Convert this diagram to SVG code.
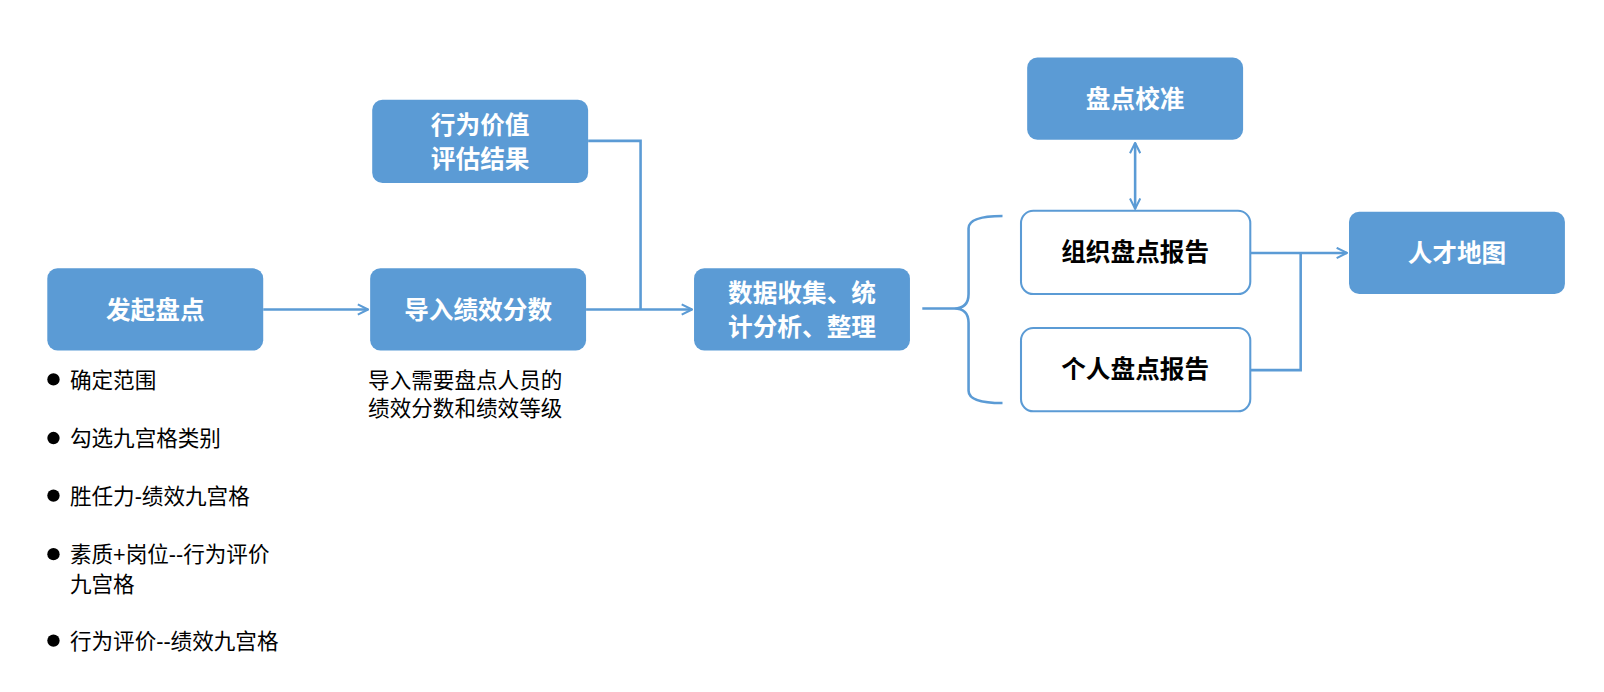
<svg xmlns="http://www.w3.org/2000/svg" width="1604" height="692" viewBox="0 0 1604 692">
<style>
.n{fill:#5b9bd5}
.w{fill:#fff;stroke:#5b9bd5;stroke-width:2}
.t{font-family:"Liberation Sans","Noto Sans CJK SC",sans-serif;font-weight:bold;font-size:24px;fill:#fff;text-anchor:middle}
.k{fill:#000}
.b{font-family:"Liberation Sans","Noto Sans CJK SC",sans-serif;font-size:21px;fill:#000}
.c{fill:none;stroke:#5b9bd5;stroke-width:2.5}
</style>
<defs>
<marker id="a" viewBox="0 0 12 12" refX="11" refY="6" markerWidth="12" markerHeight="12" markerUnits="userSpaceOnUse" orient="auto-start-reverse"><path d="M1,1 L11,6 L1,11" fill="none" stroke="#5b9bd5" stroke-width="2"/></marker>
</defs>
<rect width="1604" height="692" fill="#fff"/>
<g transform="scale(1.0282)">
<g id="n1"><rect class="n" x="46" y="261" width="210" height="80" rx="10"/><text class="t" x="151" y="310">发起盘点</text></g>
<g id="n2"><rect class="n" x="360" y="261" width="210" height="80" rx="10"/><text class="t" x="465" y="310">导入绩效分数</text></g>
<g id="n3"><rect class="n" x="362" y="97" width="210" height="81" rx="10"/><text class="t" x="467" y="130">行为价值</text><text class="t" x="467" y="163">评估结果</text></g>
<g id="n4"><rect class="n" x="675" y="261" width="210" height="80" rx="10"/><text class="t" x="780" y="294">数据收集、统</text><text class="t" x="780" y="327">计分析、整理</text></g>
<g id="n5"><rect class="n" x="999" y="56" width="210" height="80" rx="10"/><text class="t" x="1104" y="105">盘点校准</text></g>
<g id="n6"><rect class="w" x="993" y="205" width="223" height="81" rx="12"/><text class="t k" x="1104" y="254">组织盘点报告</text></g>
<g id="n7"><rect class="w" x="993" y="319" width="223" height="81" rx="12"/><text class="t k" x="1104" y="368">个人盘点报告</text></g>
<g id="n8"><rect class="n" x="1312" y="206" width="210" height="80" rx="10"/><text class="t" x="1417" y="255">人才地图</text></g>
<g id="connectors">
<path class="c" d="M256,301 H358" marker-end="url(#a)"/>
<path class="c" d="M570,301 H673" marker-end="url(#a)"/>
<path class="c" d="M572,137 H623 V301"/>
<path class="c" d="M897,300 H928 Q942,300 942,286 V222 Q942,210 975,210 M942,314 V380 Q942,392 975,392 M928,300 Q942,300 942,314"/>
<path class="c" d="M1104,139 V203" marker-start="url(#a)" marker-end="url(#a)"/>
<path class="c" d="M1216,246 H1310" marker-end="url(#a)"/>
<path class="c" d="M1216,360 H1265 V246"/>
</g>
<g id="notes">
<circle cx="52" cy="369" r="6"/><text class="b" x="68" y="377">确定范围</text>
<circle cx="52" cy="426" r="6"/><text class="b" x="68" y="434">勾选九宫格类别</text>
<circle cx="52" cy="482" r="6"/><text class="b" x="68" y="490">胜任力-绩效九宫格</text>
<circle cx="52" cy="539" r="6"/><text class="b" x="68" y="547">素质+岗位--行为评价</text><text class="b" x="68" y="576">九宫格</text>
<circle cx="52" cy="623" r="6"/><text class="b" x="68" y="631">行为评价--绩效九宫格</text>
<text class="b" x="358" y="377">导入需要盘点人员的</text>
<text class="b" x="358" y="405">绩效分数和绩效等级</text>
</g>
</g>
</svg>
